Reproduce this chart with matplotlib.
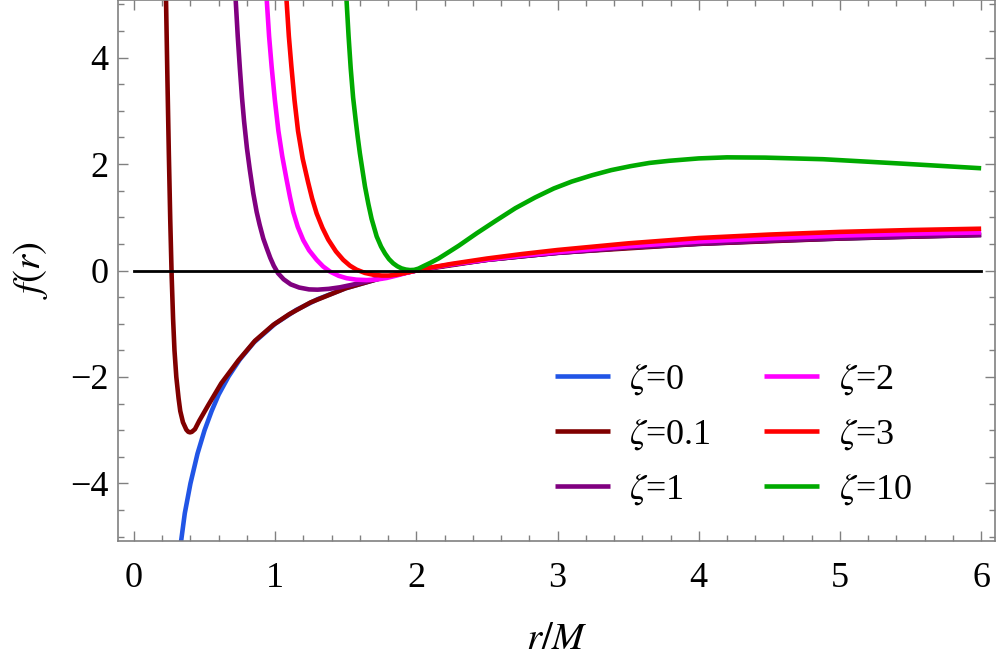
import matplotlib
matplotlib.use("Agg")
import matplotlib.pyplot as plt
from matplotlib.ticker import MultipleLocator

plt.rcParams['font.family'] = ['Liberation Serif', 'DejaVu Serif']
plt.rcParams['mathtext.fontset'] = 'stix'

# ---------------- data ----------------
labels = [r'$\zeta$=0', r'$\zeta$=0.1', r'$\zeta$=1', r'$\zeta$=2', r'$\zeta$=3', r'$\zeta$=10']
colors = ['#2155E6', '#800000', '#800080', '#FF00FF', '#FF0000', '#00AA00']

r_z0 = [0.333, 0.36, 0.40, 0.45, 0.50, 0.55, 0.60, 0.67, 0.75, 0.85, 1.0, 1.15, 1.3,
        1.5, 1.75, 2.0, 2.25, 2.5, 3.0, 3.5, 4.0, 4.5, 5.0, 5.5, 6.0]
f_z0 = [-5.1, -4.56, -4.0, -3.44, -3.0, -2.64, -2.33, -1.99, -1.67, -1.35, -1.0, -0.74, -0.54,
        -0.333, -0.143, 0.0, 0.111, 0.2, 0.333, 0.429, 0.5, 0.556, 0.6, 0.636, 0.667]

r_z01 = [0.227, 0.237, 0.247, 0.257, 0.267, 0.277, 0.287, 0.30, 0.316, 0.328, 0.347, 0.371,
         0.385, 0.397, 0.41, 0.432, 0.463, 0.526, 0.618, 0.739, 0.857, 0.987, 1.1, 1.25,
         1.5, 1.75, 2.0, 2.5, 3.0, 4.0, 5.0, 6.0]
f_z01 = [5.1, 3.6, 2.2, 0.95, -0.1, -0.9, -1.5, -2.0, -2.4, -2.64, -2.85, -2.99,
         -3.03, -3.04, -3.03, -2.98, -2.82, -2.53, -2.12, -1.69, -1.32, -1.02, -0.82, -0.6,
         -0.333, -0.143, 0.0, 0.2, 0.333, 0.5, 0.6, 0.667]

r_z1 = [0.72, 0.735, 0.75, 0.765, 0.78, 0.80, 0.82, 0.845, 0.869, 0.89, 0.916, 0.94, 0.965,
        0.99, 1.02, 1.06, 1.11, 1.17, 1.24, 1.30, 1.38, 1.46, 1.55, 1.65, 1.75, 1.85, 1.93,
        2.0, 2.1, 2.25, 2.5, 2.75, 3.0, 3.5, 4.0, 4.5, 5.0, 5.5, 6.0]
f_z1 = [5.1, 4.4, 3.8, 3.25, 2.8, 2.3, 1.9, 1.45, 1.1, 0.86, 0.6, 0.42, 0.24,
        0.09, -0.05, -0.165, -0.26, -0.32, -0.355, -0.36, -0.345, -0.315, -0.265, -0.205,
        -0.14, -0.08, -0.037, 0.0, 0.048, 0.11, 0.2, 0.27, 0.33, 0.43, 0.505, 0.56, 0.605,
        0.64, 0.67]

r_z2 = [0.94, 0.957, 0.975, 0.998, 1.023, 1.05, 1.08, 1.105, 1.128, 1.16, 1.199, 1.24,
        1.294, 1.34, 1.388, 1.45, 1.506, 1.575, 1.648, 1.72, 1.79, 1.86, 1.93, 2.0, 2.1,
        2.25, 2.5, 2.75, 3.0, 3.5, 4.0, 4.5, 5.0, 5.5, 6.0]
f_z2 = [5.1, 4.4, 3.83, 3.2, 2.62, 2.15, 1.72, 1.38, 1.1, 0.82, 0.57, 0.38,
        0.2, 0.075, -0.02, -0.10, -0.145, -0.172, -0.18, -0.17, -0.14, -0.095, -0.045, 0.0,
        0.05, 0.115, 0.205, 0.28, 0.345, 0.455, 0.545, 0.605, 0.655, 0.69, 0.715]

r_z3 = [1.08, 1.097, 1.115, 1.137, 1.162, 1.195, 1.233, 1.262, 1.294, 1.335, 1.376, 1.43,
        1.482, 1.53, 1.577, 1.635, 1.695, 1.755, 1.813, 1.87, 1.93, 2.0, 2.1, 2.25, 2.5,
        2.75, 3.0, 3.5, 4.0, 4.5, 5.0, 5.5, 6.0]
f_z3 = [5.1, 4.4, 3.83, 3.2, 2.62, 2.1, 1.66, 1.35, 1.07, 0.8, 0.58, 0.36,
        0.2, 0.09, 0.015, -0.045, -0.08, -0.095, -0.095, -0.075, -0.04, 0.0, 0.055, 0.125,
        0.225, 0.31, 0.385, 0.51, 0.61, 0.675, 0.725, 0.76, 0.785]

r_z10 = [1.505, 1.52, 1.535, 1.552, 1.57, 1.585, 1.60, 1.636, 1.66, 1.683, 1.719, 1.75,
         1.778, 1.806, 1.836, 1.865, 1.895, 1.925, 1.955, 1.985, 2.015, 2.049, 2.1, 2.157,
         2.22, 2.3, 2.428, 2.56, 2.701, 2.84, 2.973, 3.1, 3.246, 3.38, 3.518, 3.65, 3.79,
         4.0, 4.2, 4.47, 4.88, 5.42, 6.0]
f_z10 = [5.1, 4.4, 3.8, 3.25, 2.83, 2.5, 2.2, 1.58, 1.25, 0.97, 0.64, 0.45,
         0.32, 0.215, 0.135, 0.08, 0.04, 0.018, 0.008, 0.012, 0.035, 0.08, 0.145, 0.225,
         0.33, 0.465, 0.70, 0.93, 1.17, 1.37, 1.54, 1.67, 1.79, 1.885, 1.96, 2.02, 2.06,
         2.105, 2.125, 2.12, 2.09, 2.01, 1.92]

series_r = [r_z0, r_z01, r_z1, r_z2, r_z3, r_z10]
series_f = [f_z0, f_z01, f_z1, f_z2, f_z3, f_z10]

zero_line_r = [0.0, 6.0]
x_ticks = [0, 1, 2, 3, 4, 5, 6]
y_ticks = [-4, -2, 0, 2, 4]

# ---------------- figure ----------------
W, H = 997, 663
fig = plt.figure(figsize=(W / 100, H / 100), dpi=100)
ax = fig.add_axes([118 / W, (H - 541) / H, 877 / W, 541 / H])

for rr, ff, c, lab in zip(series_r, series_f, colors, labels):
    ax.plot(rr, ff, color=c, lw=3.3, label=lab, solid_capstyle='butt')

ax.plot(zero_line_r, [0, 0], color='black', lw=2.0, zorder=5)

ax.set_xlim(-0.113, 6.098)
ax.set_ylim(-5.08, 5.08)
ax.set_xticks(x_ticks)
ax.set_yticks(y_ticks)
ax.xaxis.set_minor_locator(MultipleLocator(0.2))
ax.yaxis.set_minor_locator(MultipleLocator(0.5))

spine_col = '#808080'
for s in ax.spines.values():
    s.set_color(spine_col)
    s.set_linewidth(1.2)

ax.tick_params(which='both', direction='in', top=True, right=True, color=spine_col,
               width=1.0, labelsize=26, labelcolor='black')
ax.tick_params(which='major', length=7.2)
ax.tick_params(which='minor', length=4.1)
ax.tick_params(axis='x', which='major', pad=15)
ax.tick_params(axis='y', which='major', pad=7)

ax.set_xlabel(r'$r/M$', fontsize=28)
ax.set_ylabel(r'$f(r)$', fontsize=28)
ax.xaxis.set_label_coords(0.5, -0.182)
ax.xaxis.label.set_va('center')
ax.yaxis.set_label_coords(-0.1003, 0.5)
ax.yaxis.label.set_va('center')

leg = ax.legend(ncol=2, loc='upper left', bbox_to_anchor=(0.498, 0.331),
                frameon=False, fontsize=26, handlelength=1.52, handletextpad=0.55,
                columnspacing=1.47, labelspacing=0.56, borderpad=0, borderaxespad=0)
for line in leg.get_lines():
    line.set_linewidth(3.3)

fig.savefig('out.png', dpi=100)
